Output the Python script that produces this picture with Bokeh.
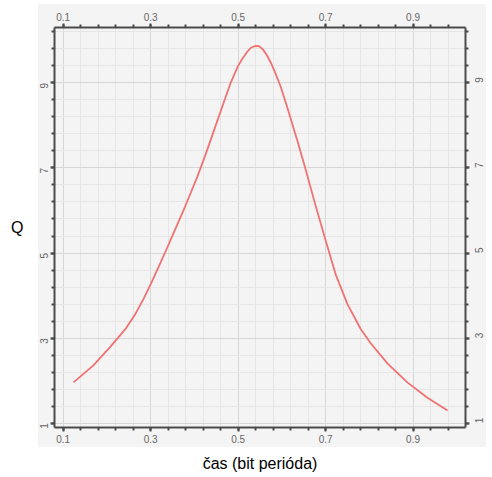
import numpy as np
from bokeh.plotting import figure
from bokeh.models import FixedTicker, LinearAxis, Range1d
from bokeh.embed import file_html
from bokeh.resources import INLINE

# data
t = [0.1235, 0.169, 0.208, 0.242, 0.265, 0.284, 0.302, 0.322, 0.338, 0.352, 0.375, 0.407,
     0.425, 0.444, 0.464, 0.483, 0.499, 0.510, 0.520, 0.530, 0.540, 0.548, 0.557, 0.565,
     0.574, 0.583, 0.597, 0.613, 0.636, 0.652, 0.677, 0.700, 0.723, 0.750, 0.780, 0.803,
     0.842, 0.887, 0.933, 0.979]
q = [1.96, 2.36, 2.80, 3.21, 3.57, 3.93, 4.31, 4.76, 5.13, 5.46, 6.00, 6.80,
     7.30, 7.86, 8.45, 9.00, 9.38, 9.57, 9.72, 9.83, 9.87, 9.86, 9.78, 9.66,
     9.49, 9.28, 8.92, 8.40, 7.62, 7.05, 6.12, 5.30, 4.50, 3.80, 3.22, 2.88,
     2.40, 1.96, 1.60, 1.30]
x_major = [0.1, 0.3, 0.5, 0.7, 0.9]
y_major = [1, 3, 5, 7, 9]
x_minor = [round(v, 2) for v in np.arange(0.1, 1.0, 0.04)]
y_minor = [round(v, 1) for v in np.arange(1.0, 10.3, 0.4)]
x_title = "čas (bit perióda)"
y_title = "Q"

XR = (0.08, 1.02)
YR = (0.9, 10.3)

p = figure(frame_width=411, frame_height=400,
           x_range=Range1d(*XR), y_range=Range1d(*YR),
           output_backend="svg", toolbar_location=None,
           x_axis_location=None, y_axis_location=None,
           min_border_left=54, min_border_right=19,
           min_border_top=27, min_border_bottom=42,
           styles={"background": "linear-gradient(#f4f4f4, #f4f4f4) 38px 4px / 448px 443px no-repeat, #ffffff"})
p.border_fill_color = None
p.background_fill_color = "#f4f4f4"
p.outline_line_color = None

xt = FixedTicker(ticks=x_major, minor_ticks=x_minor)
yt = FixedTicker(ticks=y_major, minor_ticks=y_minor)

def style(ax, rot=None, standoff=3):
    ax.axis_line_color = "#4a4a4a"
    ax.axis_line_width = 2
    ax.major_tick_line_color = "#4a4a4a"
    ax.minor_tick_line_color = "#4a4a4a"
    ax.major_tick_line_width = 2
    ax.minor_tick_line_width = 2
    ax.major_tick_out = 4
    ax.major_tick_in = 0
    ax.minor_tick_out = 3
    ax.minor_tick_in = 0
    ax.major_label_text_font = "Liberation Sans"
    ax.major_label_text_font_size = "10px"
    ax.major_label_text_color = "#666666"
    ax.major_label_standoff = standoff
    if rot is not None:
        ax.major_label_orientation = rot
    ax.axis_label_text_font = "Liberation Sans"
    ax.axis_label_text_font_size = "16px"
    ax.axis_label_text_font_style = "normal"
    ax.axis_label_text_color = "black"

ax_b = LinearAxis(ticker=xt, axis_label=x_title)
style(ax_b)
ax_b.axis_label_standoff = 9
p.add_layout(ax_b, "below")

ax_t = LinearAxis(ticker=xt)
style(ax_t)
p.add_layout(ax_t, "above")

ax_l = LinearAxis(ticker=yt, axis_label=y_title)
style(ax_l, np.pi / 2, standoff=6)
ax_l.axis_label_standoff = 10
if "axis_label_orientation" in ax_l.properties():
    ax_l.axis_label_orientation = "horizontal"
p.add_layout(ax_l, "left")

ax_r = LinearAxis(ticker=yt)
style(ax_r, np.pi / 2, standoff=10)
p.add_layout(ax_r, "right")

p.xgrid.ticker = xt
p.ygrid.ticker = yt
for g in (p.xgrid, p.ygrid):
    g.grid_line_color = "#d6d6d6"
    g.grid_line_width = 1
    g.minor_grid_line_color = "#e6e6e6"
    g.minor_grid_line_width = 1

p.line(t, q, line_color="#f07272", line_width=1.8, line_join="round")

open("out.html", "w").write(file_html(p, INLINE))
